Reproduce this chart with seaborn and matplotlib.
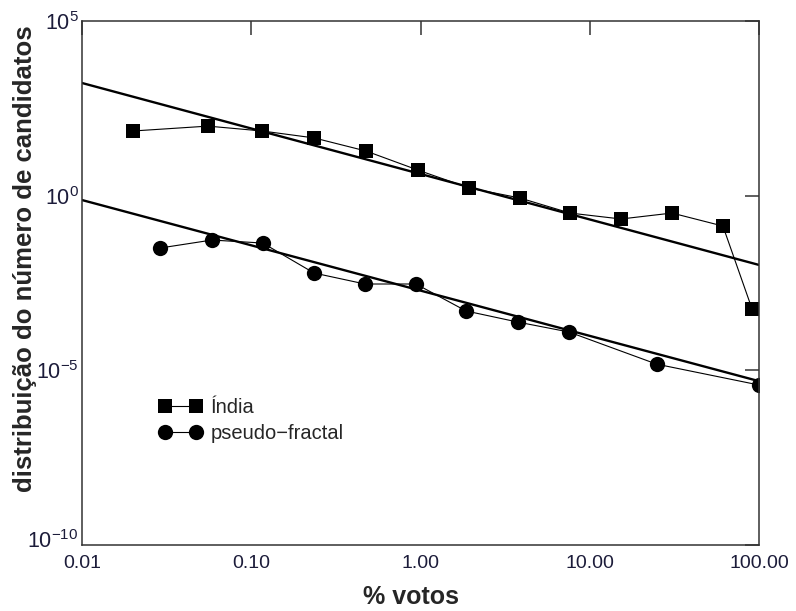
import numpy as np
import matplotlib
matplotlib.use('Agg')
import matplotlib.pyplot as plt
import matplotlib.transforms as mtransforms
import seaborn as sns

# Índia (squares)
india_x = [0.020, 0.0555, 0.116, 0.235, 0.476, 0.966, 1.94, 3.87, 7.64, 15.3, 30.6, 61.2, 91.0]
india_y = [71, 98, 71, 45, 19, 5.4, 1.66, 0.857, 0.318, 0.215, 0.318, 0.135, 5.7e-4]

# pseudo-fractal (circles)
pseudo_x = [0.0289, 0.0586, 0.117, 0.235, 0.47, 0.94, 1.86, 3.77, 7.54, 24.9, 100.0]
pseudo_y = [0.0317, 0.0537, 0.044, 0.0061, 0.00296, 0.00296, 5.0e-4, 2.4e-4, 1.25e-4, 1.5e-5, 3.8e-6]

# power-law fit lines (end points over the x range)
fit_x = [0.01, 100.0]
fit_india = [1.68e3, 1.04e-2]
fit_pseudo = [0.75, 4.9e-6]

xtick_vals = [0.01, 0.1, 1, 10, 100]
xtick_labels = ['0.01', '0.10', '1.00', '10.00', '100.00']
ytick_vals = [1e-10, 1e-5, 1, 1e5]
ytick_labels = [r'$\mathregular{10^{-10}}$', r'$\mathregular{10^{-5}}$',
                r'$\mathregular{10^{0}}$', r'$\mathregular{10^{5}}$']

sns.set_theme(style='white')
plt.rcParams['font.family'] = ['Liberation Sans', 'DejaVu Sans']
plt.rcParams['mathtext.fontset'] = 'custom'
plt.rcParams['mathtext.rm'] = 'Liberation Sans'

fig = plt.figure(figsize=(7.96, 6.11), dpi=100)
ax = fig.add_axes([82 / 796, 1 - 545 / 611, (759 - 82) / 796, (545 - 21) / 611])

sns.lineplot(x=fit_x, y=fit_india, ax=ax, color='black', linewidth=1.7, legend=False)
sns.lineplot(x=fit_x, y=fit_pseudo, ax=ax, color='black', linewidth=1.7, legend=False)

sns.lineplot(x=india_x, y=india_y, ax=ax, color='black', linewidth=0.8, marker='s',
             markersize=10, markeredgewidth=0, estimator=None, sort=False, label='Índia')
sns.lineplot(x=pseudo_x, y=pseudo_y, ax=ax, color='black', linewidth=0.8, marker='o',
             markersize=11, markeredgewidth=0, estimator=None, sort=False, label='pseudo\u2212fractal')

ax.set_xscale('log')
ax.set_yscale('log')
ax.set_xlim(0.01, 100)
ax.set_ylim(1e-10, 1e5)
ax.set_xticks(xtick_vals)
ax.set_xticklabels(xtick_labels)
ax.set_yticks(ytick_vals)
ax.set_yticklabels(ytick_labels)
ax.minorticks_off()

ax.tick_params(direction='in', length=10, width=1.1, top=True, right=True,
               labelcolor='#1c1c3a', color='#333333')
ax.tick_params(axis='x', pad=7, labelsize=14)
ax.tick_params(axis='y', pad=2.5, labelsize=15.5)
for sp in ax.spines.values():
    sp.set_color('#333333')
    sp.set_linewidth(1.1)

# nudge the bottom y label up a little so it clears "0.01"
low = ax.get_yticklabels()[0]
low.set_transform(low.get_transform() + mtransforms.ScaledTranslation(0, 4 / 72, fig.dpi_scale_trans))

ax.set_xlabel('% votos', fontsize=18, fontweight='bold')
ax.set_ylabel('distribuição do número de candidatos', fontsize=18.5, fontweight='bold')
ax.xaxis.set_label_coords(0.486, -0.076)
ax.yaxis.set_label_coords(-0.067, 0.546)

ax.legend(loc='upper left', bbox_to_anchor=(0.114, 0.281), frameon=False, numpoints=2,
          fontsize=14.5, handlelength=2.14, handletextpad=0.4, labelspacing=0.36,
          borderpad=0, borderaxespad=0)

fig.savefig('out.png', dpi=100)
